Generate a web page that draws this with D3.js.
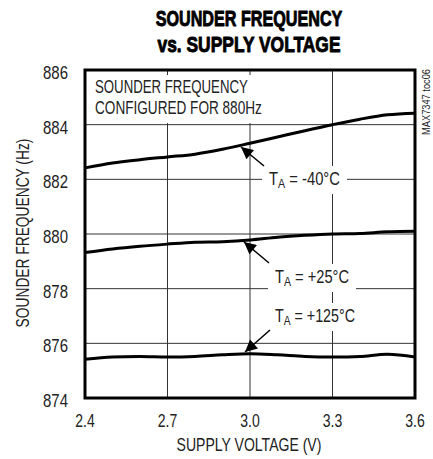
<!DOCTYPE html>
<html>
<head>
<meta charset="utf-8">
<script src="https://cdn.jsdelivr.net/npm/d3@7"></script>
<style>
  html, body { margin: 0; padding: 0; background: #fff; }
  svg { display: block; }
  text { font-family: "Liberation Sans", Arial, sans-serif; fill: #222; }
</style>
</head>
<body>
<svg id="chart" width="433" height="459"></svg>
<script>
// ---- data ----
const voltage = [2.4, 2.5, 2.6, 2.7, 2.8, 2.9, 3.0, 3.1, 3.2, 3.3, 3.4, 3.5, 3.6];
const freqMinus40 = [882.42, 882.6, 882.72, 882.82, 882.92, 883.1, 883.32, 883.55, 883.78, 884.0, 884.2, 884.36, 884.42];
const freqPlus25 = [879.32, 879.45, 879.55, 879.63, 879.7, 879.72, 879.78, 879.88, 879.95, 880.0, 880.02, 880.08, 880.1];
const freqPlus125 = [875.42, 875.5, 875.52, 875.5, 875.52, 875.58, 875.62, 875.58, 875.52, 875.5, 875.52, 875.6, 875.5];
const xTicks = [2.4, 2.7, 3.0, 3.3, 3.6];
const yTicks = [874, 876, 878, 880, 882, 884, 886];
const titleLines = ["SOUNDER FREQUENCY", "vs. SUPPLY VOLTAGE"];
const noteLines = ["SOUNDER FREQUENCY", "CONFIGURED FOR 880Hz"];
const seriesLabels = [
  { main: "T", sub: "A", rest: " = -40°C" },
  { main: "T", sub: "A", rest: " = +25°C" },
  { main: "T", sub: "A", rest: " = +125°C" }
];

const svg = d3.select("#chart");
const m = { left: 85, right: 415, top: 70, bottom: 398 };
const x = d3.scaleLinear().domain([2.4, 3.6]).range([m.left, m.right]);
const y = d3.scaleLinear().domain([874, 886]).range([m.bottom, m.top]);

// condensed text helper: text drawn at origin, then translated/rotated/squeezed
function addText(parent, px, py, o, build) {
  const t = parent.append("text").attr("x", 0).attr("y", 0)
    .attr("text-anchor", o.anchor || "start")
    .style("font-size", (o.size || 18) + "px");
  if (o.weight) t.style("font-weight", o.weight);
  if (o.fill) t.style("fill", o.fill);
  if (o.stroke) t.style("stroke", o.fill || "#000").style("stroke-width", o.stroke).style("stroke-linejoin", "round");
  if (build) build(t); else t.text(o.text);
  const w = t.node().getBBox().width;
  const sx = o.width ? o.width / w : (o.sx || 0.8);
  t.attr("transform", `translate(${px},${py})` + (o.rotate ? ` rotate(${o.rotate})` : "") + ` scale(${sx},1)`);
  return t;
}

// title
const titleW = [187, 183];
titleLines.forEach((s, i) => addText(svg, 249, 26 + i * 26,
  { text: s, size: 22, weight: "bold", anchor: "middle", fill: "#000", stroke: 0.9, width: titleW[i] }));

// grid
const grid = svg.append("g");
grid.selectAll("line.h").data(yTicks.slice(1, -1)).join("line")
  .attr("x1", m.left).attr("x2", m.right)
  .attr("y1", d => y(d)).attr("y2", d => y(d))
  .attr("stroke", "#333").attr("stroke-width", 1);
grid.selectAll("line.v").data(xTicks.slice(1, -1)).join("line")
  .attr("x1", d => x(d)).attr("x2", d => x(d))
  .attr("y1", m.top).attr("y2", m.bottom)
  .attr("stroke", "#333").attr("stroke-width", 1);

// note box (white background covering grid)
svg.append("rect").attr("x", m.left + 2).attr("y", 75).attr("width", 180).attr("height", 48).attr("fill", "#fff");
const noteW = [153, 167];
noteLines.forEach((s, i) => addText(svg, 95, 93 + i * 20.5, { text: s, width: noteW[i] }));

// curves
const line = d3.line().x((d, i) => x(voltage[i])).y(d => y(d)).curve(d3.curveCatmullRom.alpha(0.5));
[freqMinus40, freqPlus25, freqPlus125].forEach(s => {
  svg.append("path").attr("d", line(s))
    .attr("fill", "none").attr("stroke", "#000").attr("stroke-width", 3);
});

// labels with arrows
const labelDefs = [
  { x: 269, y: 185, w: 71, arrow: [264, 166, 241, 147] },
  { x: 275, y: 283, w: 74, arrow: [269, 263, 244, 242] },
  { x: 275, y: 322, w: 80, arrow: [270, 330, 245, 352] }
];
const defs = svg.append("defs");
defs.append("marker").attr("id", "ah").attr("viewBox", "0 0 10 10")
  .attr("refX", 10).attr("refY", 5).attr("markerWidth", 16).attr("markerHeight", 12)
  .attr("markerUnits", "userSpaceOnUse").attr("orient", "auto")
  .append("path").attr("d", "M0,0 L10,5 L0,10 Z").attr("fill", "#000");

labelDefs.forEach((ld, i) => {
  const g = svg.append("g");
  g.append("rect").attr("fill", "#fff")
    .attr("x", ld.x - 7).attr("y", ld.y - 19).attr("width", ld.w + 14).attr("height", 28);
  addText(g, ld.x, ld.y, { width: ld.w }, t => {
    t.append("tspan").text(seriesLabels[i].main);
    t.append("tspan").attr("dy", 3).style("font-size", "13px").text(seriesLabels[i].sub);
    t.append("tspan").attr("dy", -3).text(seriesLabels[i].rest);
  });
  svg.append("line")
    .attr("x1", ld.arrow[0]).attr("y1", ld.arrow[1]).attr("x2", ld.arrow[2]).attr("y2", ld.arrow[3])
    .attr("stroke", "#000").attr("stroke-width", 1.5).attr("marker-end", "url(#ah)");
});

// frame
svg.append("rect").attr("x", m.left).attr("y", m.top)
  .attr("width", m.right - m.left).attr("height", m.bottom - m.top)
  .attr("fill", "none").attr("stroke", "#000").attr("stroke-width", 3);

// axes tick labels
yTicks.forEach(d => addText(svg, 68, y(d) + 9, { text: String(d), anchor: "end", width: 25 }));
xTicks.forEach(d => addText(svg, x(d), 427, { text: d3.format(".1f")(d), anchor: "middle", sx: 0.78 }));

// axis titles
addText(svg, 249, 451, { text: "SUPPLY VOLTAGE (V)", anchor: "middle", width: 145 });
addText(svg, 29, 233, { text: "SOUNDER FREQUENCY (Hz)", anchor: "middle", width: 189, rotate: -90 });

// side code
addText(svg, 430, 69, { text: "MAX7347 toc06", anchor: "end", size: 11, width: 66, rotate: -90 });
</script>
</body>
</html>
